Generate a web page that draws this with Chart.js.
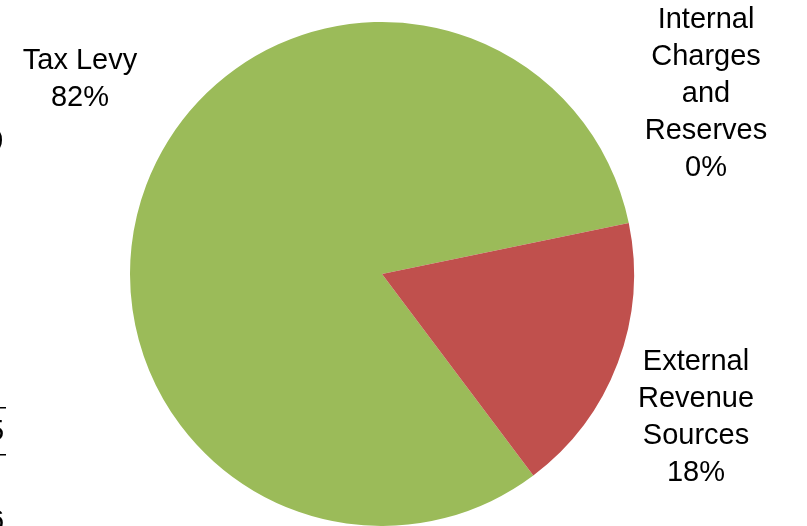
<!DOCTYPE html>
<html>
<head>
<meta charset="utf-8">
<script src="https://cdn.jsdelivr.net/npm/chart.js@4.4.1/dist/chart.umd.min.js"></script>
<style>
  html, body { margin: 0; padding: 0; background: #ffffff; }
  #wrap { position: relative; width: 807px; height: 526px; }
</style>
</head>
<body>
<div id="wrap"><canvas id="c" width="807" height="526"></canvas></div>
<script>
// Revenue mix by source
const categories = ["Tax Levy", "Internal Charges and Reserves", "External Revenue Sources"];
const shares = [82, 0, 18];
const sliceColors = ["#9BBB59", "#4F81BD", "#C0504D"];

// Wrapped label lines for each slice, followed by the percentage
const labelLines = [
  ["Tax Levy"],
  ["Internal", "Charges", "and", "Reserves"],
  ["External", "Revenue", "Sources"]
];
// Label anchor (centre x, first-line centre y) for each slice
const labelAnchors = [
  { x: 80, y: 61 },
  { x: 706, y: 20 },
  { x: 696, y: 362 }
];

const FONT = '29px "Liberation Sans", Arial, sans-serif';
const LINE_H = 37;

const sliceLabels = {
  id: 'sliceLabels',
  afterDraw(chart) {
    const ctx = chart.ctx;
    ctx.save();
    ctx.font = FONT;
    ctx.fillStyle = '#000000';
    ctx.textAlign = 'center';
    ctx.textBaseline = 'middle';
    const data = chart.data.datasets[0].data;
    data.forEach((v, i) => {
      const lines = labelLines[i].concat([Math.round(v) + '%']);
      const a = labelAnchors[i];
      lines.forEach((t, k) => ctx.fillText(t, a.x, a.y + k * LINE_H));
    });
    // clipped text at the left page margin
    ctx.textAlign = 'left';
    ctx.fillText('0', -13, 142);
    ctx.fillText('5', -12, 432);
    ctx.fillText('6', -12, 522);
    ctx.fillRect(0, 407, 6, 1.5);
    ctx.fillRect(0, 454, 6, 1.5);
    ctx.restore();
  }
};

new Chart(document.getElementById('c'), {
  type: 'pie',
  data: {
    labels: categories,
    datasets: [{
      data: shares,
      backgroundColor: sliceColors,
      borderWidth: 0
    }]
  },
  options: {
    responsive: false,
    animation: false,
    rotation: 143.1,
    layout: { padding: { top: 22, bottom: 0, left: 0, right: 43 } },
    plugins: {
      legend: { display: false },
      tooltip: { enabled: false }
    }
  },
  plugins: [sliceLabels]
});
</script>
</body>
</html>
